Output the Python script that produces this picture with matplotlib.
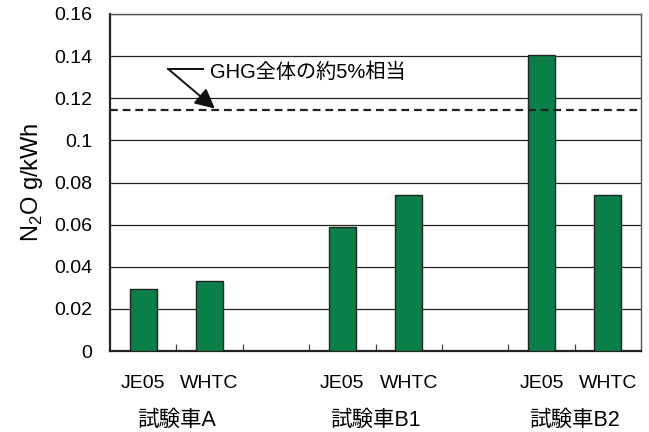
import matplotlib
matplotlib.use('Agg')
import matplotlib.pyplot as plt
import numpy as np

plt.rcParams['font.family'] = ['Liberation Sans', 'Noto Sans CJK JP', 'DejaVu Sans']

# N2O emission per vehicle / test cycle
vehicles = ['試験車A', '試験車B1', '試験車B2']
cycles = ['JE05', 'WHTC']
n2o = [[0.0295, 0.0331],
       [0.0588, 0.0741],
       [0.1406, 0.0743]]
ghg_5pct = 0.1143

fig = plt.figure(figsize=(6.49, 4.32), dpi=100)
ax = fig.add_axes([110/649, 1-351/432, 531/649, 337/432])

slot = 0
xpos, heights, labels = [], [], []
for i, v in enumerate(vehicles):
    for j, c in enumerate(cycles):
        xpos.append(slot)
        heights.append(n2o[i][j])
        labels.append(c)
        slot += 1
    slot += 1
nslots = slot - 1

ax.bar(xpos, heights, width=0.41, color='#0a7f48', edgecolor='#222222', linewidth=1.0, zorder=3)
ax.axhline(ghg_5pct, color='#222222', linestyle=(0, (3.5, 2.2)), linewidth=1.6, zorder=4)

ax.set_xlim(-0.5, nslots - 0.5)
ax.set_ylim(0, 0.16)
ax.set_yticks(np.arange(0, 0.161, 0.02))
ax.set_yticklabels(['0', '0.02', '0.04', '0.06', '0.08', '0.1', '0.12', '0.14', '0.16'], fontsize=14)
ax.yaxis.grid(True, color='#222222', linewidth=0.9, zorder=0)
ax.tick_params(axis='y', length=0, pad=13)

# tick marks at category boundaries, labels placed separately
ax.set_xticks(np.arange(0.5, nslots - 0.5, 1))
ax.set_xticklabels([])
ax.tick_params(axis='x', direction='in', length=5, width=0.9, color='#444444')
for x, lab in zip(xpos, labels):
    ax.text(x, -0.0152, lab, ha='center', va='center', fontsize=14, clip_on=False)
for i, v in enumerate(vehicles):
    ax.text(xpos[2*i] + 0.5, -0.0328, v, ha='center', va='center', fontsize=15.5, clip_on=False)

for s in ['left', 'bottom']:
    ax.spines[s].set_linewidth(1.6)
    ax.spines[s].set_color('#222222')
for s in ['top', 'right']:
    ax.spines[s].set_linewidth(1.0)
    ax.spines[s].set_color('#555555')

ax.set_ylabel(r'N$_{\mathregular{2}}$O g/kWh', fontsize=17, labelpad=6)

# annotation: leader line with arrow onto the 5% level
ax.plot([0.373, 0.9], [0.134, 0.134], color='#111111', linewidth=1.4, clip_on=False, zorder=5)
ax.annotate('', xy=(1.08, ghg_5pct + 0.0008), xytext=(0.373, 0.134),
            arrowprops=dict(arrowstyle='-|>,head_length=0.6,head_width=0.3', color='#111111',
                            lw=1.4, mutation_scale=20, shrinkA=0, shrinkB=0),
            zorder=5)
ax.text(1.006, 0.1326, 'GHG全体の約5%相当', ha='left', va='center', fontsize=14.5, zorder=5)

fig.savefig('out.png', dpi=100)
